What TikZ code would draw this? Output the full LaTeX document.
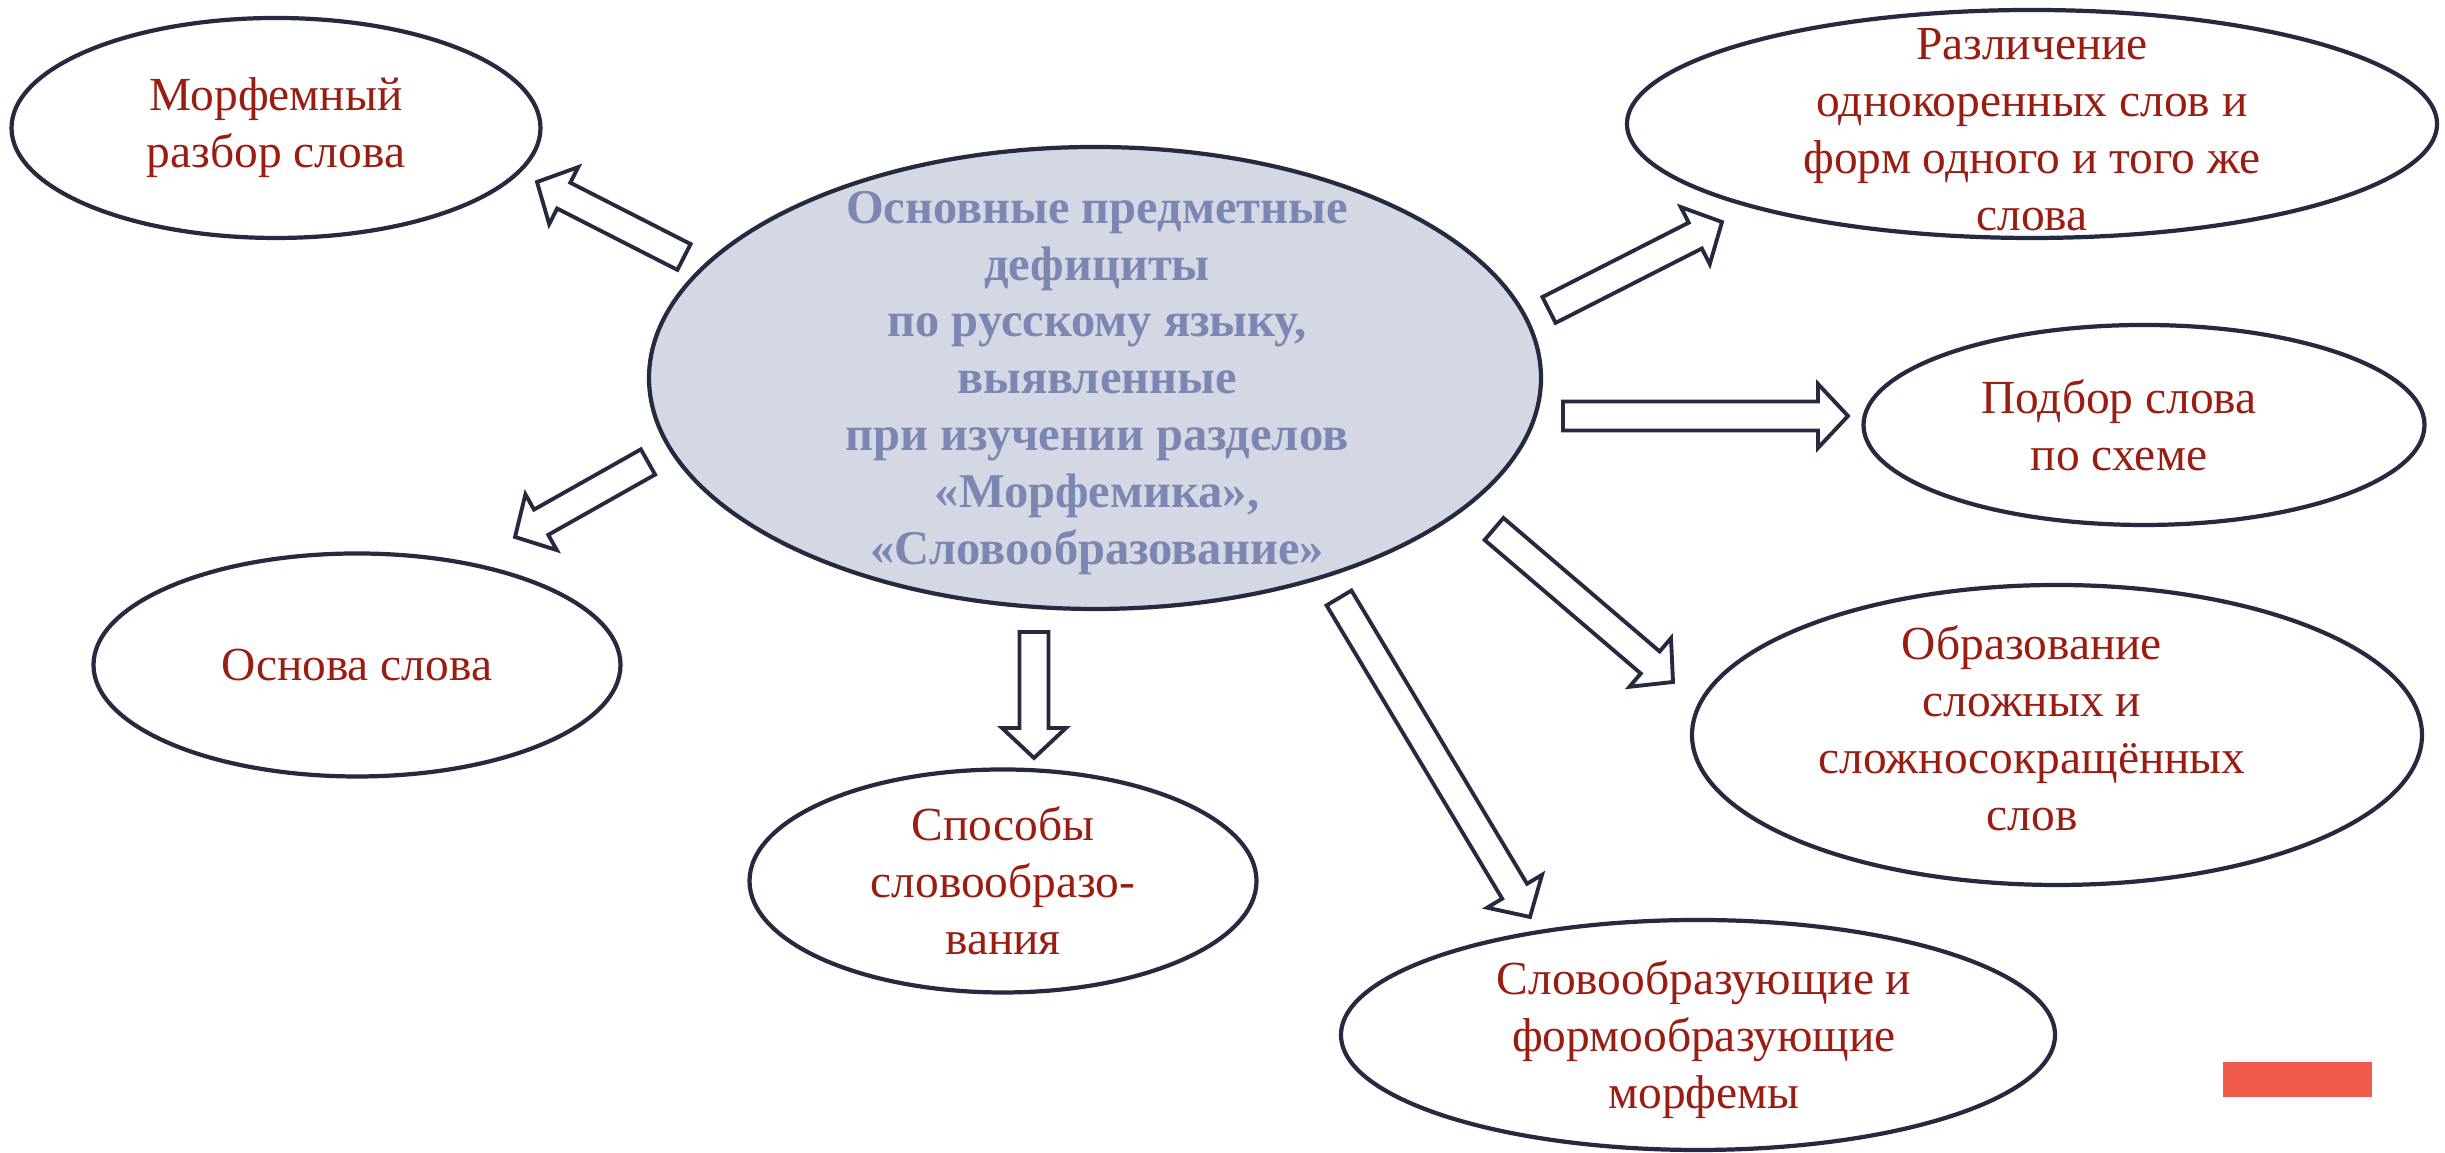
\documentclass[tikz,border=0pt]{standalone}
\usepackage{fontspec}
\setmainfont{Liberation Serif}
\usetikzlibrary{shapes.geometric,calc}
\definecolor{navy}{HTML}{262A40}
\definecolor{txtred}{HTML}{9A1D12}
\definecolor{txtblue}{HTML}{7B86B2}
\definecolor{cfill}{HTML}{D4D8E4}
\definecolor{barred}{HTML}{EF5A4B}
\newcommand{\hollowarrow}[2]{%
  \coordinate (hb) at ($(#2)!0.30cm!(#1)$);
  \draw [arrowbody] ($(#1)!0.145cm!-90:(#2)$) -- ($(hb)!0.145cm!-90:(#2)$)
    -- ($(hb)!0.32cm!-90:(#2)$) -- (#2) -- ($(hb)!0.32cm!90:(#2)$)
    -- ($(hb)!0.145cm!90:(#2)$) -- ($(#1)!0.145cm!90:(#2)$) -- cycle;}

\begin{document}
\begin{tikzpicture}[oval/.style={ellipse, draw=navy, line width=1.2pt, fill=white, inner sep=0pt},
    lbl/.style={align=center, text=txtred, font=\fontsize{13.5}{16.2}\selectfont},
    arrowbody/.style={draw=navy, line width=1.1pt, fill=white}]
    \useasboundingbox (0, 0) rectangle (24.45, 11.53);
    \node [oval, fill=cfill, minimum width=8.92cm, minimum height=4.62cm] (c) at (10.95, 7.75) {};
    \node [oval, minimum width=5.29cm, minimum height=2.2cm] (m) at (2.76, 10.25) {};
    \node [oval, minimum width=5.27cm, minimum height=2.23cm] (o) at (3.57, 4.88) {};
    \node [oval, minimum width=5.07cm, minimum height=2.23cm] (s) at (10.03, 2.72) {};
    \node [oval, minimum width=8.10cm, minimum height=2.28cm] (r) at (20.32, 10.29) {};
    \node [oval, minimum width=5.61cm, minimum height=2.0cm] (p) at (21.44, 7.28) {};
    \node [oval, minimum width=7.30cm, minimum height=3.0cm] (b) at (20.57, 4.18) {};
    \node [oval, minimum width=7.14cm, minimum height=2.30cm] (f) at (16.98, 1.18) {};
    \node [lbl, text=txtblue, font=\bfseries\fontsize{13.8}{16.2}\selectfont] (ct) at (10.97, 7.70)
      {Основные предметные\\дефициты\\по русскому языку,\\выявленные\\при изучении разделов\\«Морфемика»,\\«Словообразование»};
    \node [lbl] (mt) at (m) {Морфемный\\разбор слова};
    \node [lbl] (ot) at (o) {Основа слова};
    \node [lbl] (st) at (s) {Способы\\словообразо-\\вания};
    \node [lbl] (rt) at (20.32, 10.23) {Различение\\однокоренных слов и\\форм одного и того же\\слова};
    \node [lbl] (pt) at (21.19, 7.28) {Подбор слова\\по схеме};
    \node [lbl] (bt) at (20.32, 4.25) {Образование\\сложных и\\сложносокращённых\\слов};
    \node [lbl] (ft) at (17.04, 1.13) {Словообразующие и\\формообразующие\\морфемы};
    \coordinate (m1) at (6.84, 8.96);  \coordinate (m2) at (5.37, 9.71);
    \coordinate (o1) at (6.48, 6.91);  \coordinate (o2) at (5.15, 6.16);
    \coordinate (s1) at (10.34, 5.21); \coordinate (s2) at (10.34, 3.95);
    \coordinate (r1) at (15.49, 8.43); \coordinate (r2) at (17.22, 9.31);
    \coordinate (p1) at (15.63, 7.37); \coordinate (p2) at (18.48, 7.37);
    \coordinate (b1) at (14.94, 6.24); \coordinate (b2) at (16.73, 4.71);
    \coordinate (f1) at (13.39, 5.55); \coordinate (f2) at (15.30, 2.36);
    \foreach \t/\h in {m1/m2, o1/o2, s1/s2, r1/r2, p1/p2, b1/b2, f1/f2}
      {\hollowarrow{\t}{\h}}
    \fill [barred] (22.23, 0.56) rectangle (23.72, 0.91);
\end{tikzpicture}
\end{document}
